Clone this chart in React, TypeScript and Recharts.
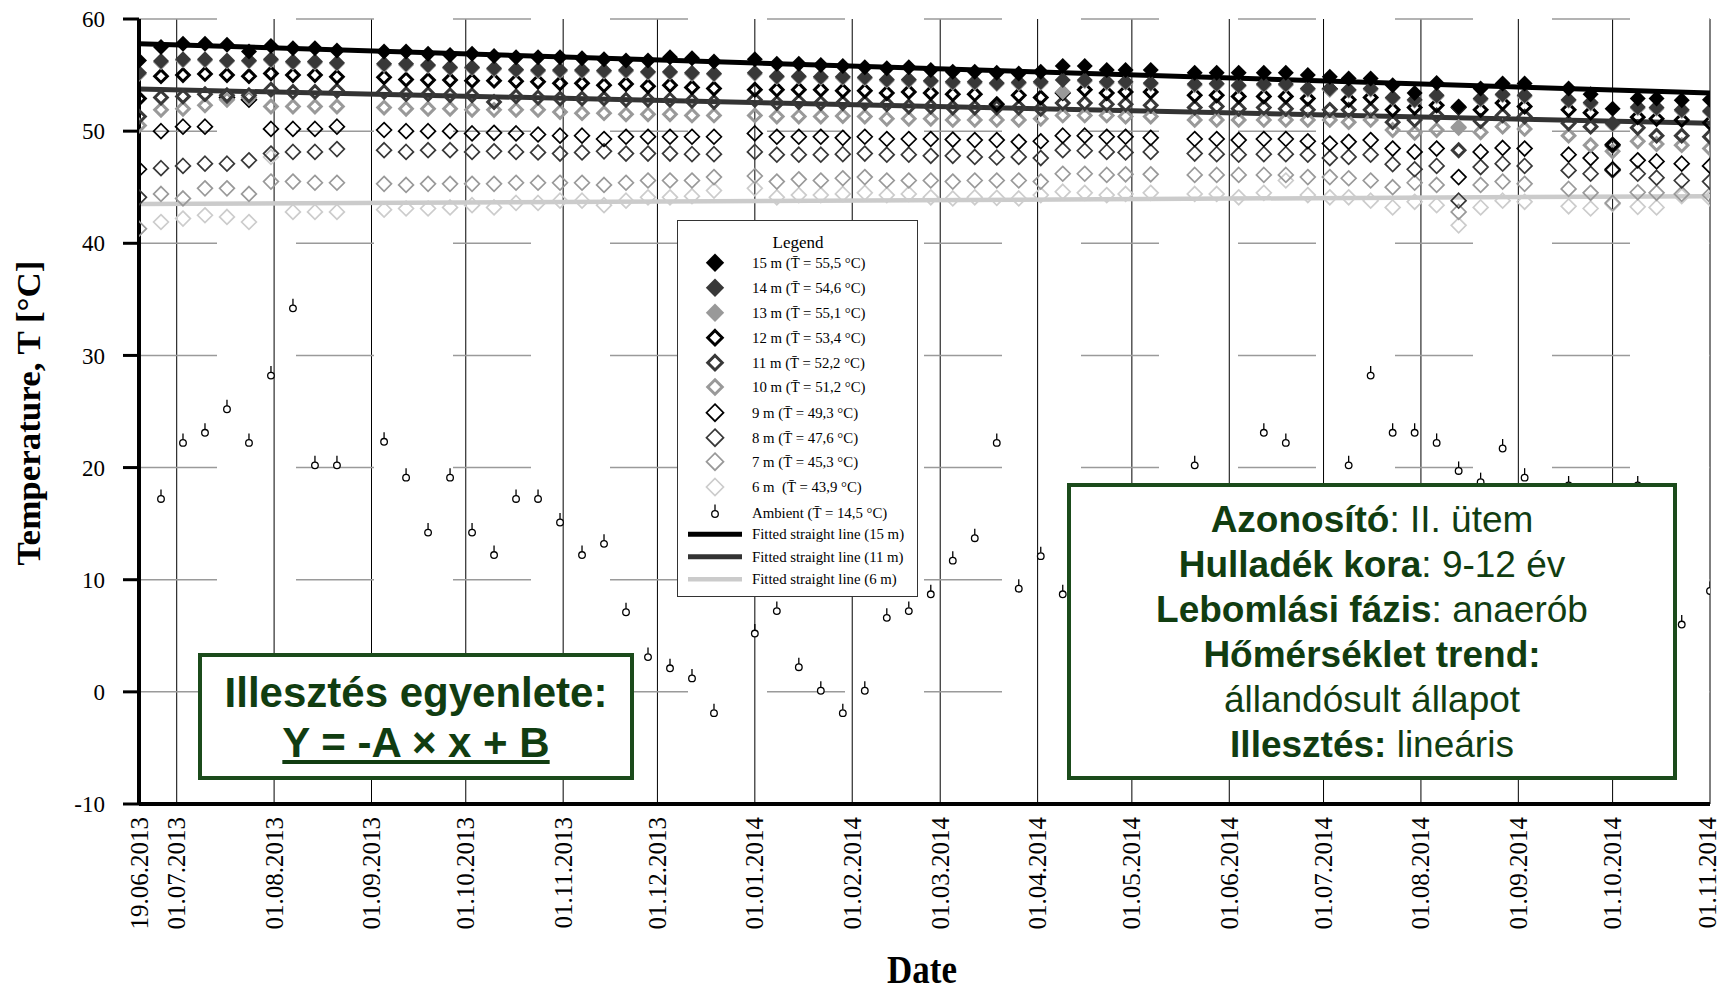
import React from 'react';
import { ComposedChart, Scatter, Line, XAxis, YAxis, CartesianGrid } from 'recharts';

const W = 1721;
const H = 991;

// measurement days, counted from 19.06.2013
const days = [0, 7, 14, 21, 28, 35, 42, 49, 56, 63,
  78, 85, 92, 99, 106, 113, 120, 127, 134, 141, 148, 155, 162, 169, 176, 183,
  196, 203, 210, 217, 224, 231, 238, 245, 252, 259, 266, 273, 280, 287, 294, 301, 308, 314, 322,
  336, 343, 350, 358, 365, 372, 379, 385, 392, 399, 406, 413, 420, 427, 434, 441,
  455, 462, 469, 477, 483, 491, 500];

const t15 = [56.3, 57.5, 57.8, 57.8, 57.7, 57.1, 57.6, 57.4, 57.4, 57.2,
  57.1, 57.1, 56.9, 56.8, 56.9, 56.7, 56.6, 56.6, 56.6, 56.5, 56.4, 56.3, 56.3, 56.6, 56.5, 56.2,
  56.4, 56.0, 56.0, 55.9, 55.8, 55.7, 55.6, 55.7, 55.45, 55.3, 55.3, 55.2, 55.15, 55.3, 55.8, 55.8, 55.45, 55.45, 55.45,
  55.2, 55.2, 55.2, 55.2, 55.2, 55.0, 54.85, 54.7, 54.7, 54.1, 53.4, 54.3, 52.2, 53.8, 54.25, 54.25,
  53.8, 53.3, 52.0, 52.9, 52.9, 52.75, 52.8];
const t14 = [55.2, 56.25, 56.4, 56.4, 56.3, 56.3, 56.4, 56.2, 56.2, 56.1,
  56.0, 56.0, 55.9, 55.7, 55.7, 55.6, 55.5, 55.45, 55.45, 55.45, 55.4, 55.45, 55.3, 55.3, 55.2, 55.15,
  55.2, 54.9, 54.9, 54.85, 54.85, 54.8, 54.6, 54.6, 54.5, 54.4, 54.4, 54.3, 54.35, 54.4, 54.55, 54.55, 54.4, 54.4, 54.3,
  54.2, 54.25, 54.1, 54.2, 54.2, 53.8, 53.8, 53.7, 53.8, 53.0, 52.8, 53.2, 52.1, 52.9, 53.3, 53.2,
  52.8, 52.55, 50.7, 52.15, 52.1, 51.9, 51.8];
const t13 = [55.1, 56.15, 56.3, 56.3, 56.2, 56.2, 56.3, 56.1, 56.1, 56.0,
  55.9, 55.9, 55.8, 55.6, 55.6, 55.5, 55.4, 55.35, 55.35, 55.35, 55.3, 55.35, 55.2, 55.2, 55.1, 55.05,
  55.1, 54.8, 54.8, 54.75, 54.75, 54.7, 54.5, 54.5, 54.4, 54.3, 54.3, 54.2, 54.25, 54.3, 53.5, 54.45, 54.3, 54.3, 54.2,
  54.1, 54.15, 54.0, 54.1, 54.1, 53.7, 53.7, 53.6, 53.7, 52.9, 52.7, 53.1, 50.4, 52.8, 53.2, 53.1,
  52.7, 52.45, 50.6, 52.05, 52.0, 51.8, 51.7];
const t12 = [52.9, 54.9, 55.0, 55.1, 55.0, 54.9, 55.15, 55.0, 55.0, 54.85,
  54.8, 54.6, 54.55, 54.55, 54.5, 54.5, 54.45, 54.4, 54.26, 54.26, 54.1, 54.2, 54.0, 54.1, 53.9, 53.8,
  53.7, 53.7, 53.7, 53.7, 53.6, 53.6, 53.4, 53.5, 53.4, 53.3, 53.3, 52.4, 53.2, 53.0, 53.4, 53.7, 53.4, 53.5, 53.5,
  53.2, 53.2, 53.1, 53.1, 53.1, 52.9, 53.75, 52.8, 53.0, 51.9, 52.1, 52.3, 52.1, 51.9, 52.5, 52.2,
  51.9, 51.65, 48.8, 51.25, 51.1, 51.0, 50.75];
const t11 = [51.3, 53.0, 53.1, 53.3, 53.2, 53.2, 53.7, 53.5, 53.5, 53.6,
  53.5, 53.3, 53.3, 53.2, 53.2, 52.6, 53.1, 53.0, 52.9, 52.9, 52.9, 52.8, 52.8, 52.8, 52.7, 52.6,
  52.8, 52.5, 52.6, 52.5, 52.5, 52.5, 52.4, 52.2, 52.2, 52.1, 52.1, 52.1, 52.1, 52.0, 52.5, 52.5, 52.4, 52.4, 52.3,
  52.1, 52.2, 52.0, 52.1, 52.0, 51.9, 51.9, 51.9, 51.9, 50.8, 51.0, 51.4, 48.3, 50.9, 51.4, 51.3,
  50.7, 50.4, 48.7, 50.3, 49.6, 49.6, 49.5];
const t10 = [50.5, 51.9, 52.0, 52.3, 52.8, 53.0, 52.2, 52.2, 52.2, 52.2,
  52.1, 52.0, 52.0, 52.0, 51.9, 51.9, 51.9, 51.9, 51.7, 51.6, 51.6, 51.5, 51.5, 51.5, 51.4, 51.4,
  51.4, 51.3, 51.3, 51.3, 51.35, 51.3, 51.1, 51.1, 51.1, 51.0, 51.0, 51.0, 51.0, 51.1, 51.4, 51.4, 51.4, 51.3, 51.3,
  51.0, 51.0, 51.0, 51.0, 51.0, 51.0, 51.0, 50.8, 51.0, 50.1, 49.85, 50.1, 50.3, 49.9, 50.4, 50.2,
  49.6, 48.75, 48.2, 49.1, 48.85, 48.75, 48.45];
const t9 = [46.6, 50.0, 50.4, 50.4, 53.0, 52.8, 50.2, 50.2, 50.2, 50.4,
  50.1, 50.0, 50.0, 50.0, 49.8, 49.85, 49.8, 49.7, 49.6, 49.6, 49.3, 49.5, 49.5, 49.5, 49.5, 49.5,
  49.8, 49.5, 49.5, 49.5, 49.4, 49.5, 49.3, 49.3, 49.3, 49.25, 49.2, 49.2, 49.05, 49.1, 49.6, 49.6, 49.5, 49.5, 49.4,
  49.3, 49.3, 49.2, 49.3, 49.3, 49.1, 48.9, 49.05, 49.2, 48.45, 48.15, 48.45, 45.9, 48.15, 48.5, 48.45,
  47.9, 47.6, 46.6, 47.4, 47.3, 47.1, 46.9];
const t8 = [44.1, 46.7, 46.9, 47.1, 47.1, 47.4, 48.0, 48.15, 48.15, 48.4,
  48.3, 48.15, 48.3, 48.3, 48.15, 48.2, 48.15, 48.1, 48.0, 48.1, 48.2, 48.0, 48.0, 48.0, 47.95, 47.95,
  48.15, 47.9, 47.9, 47.9, 47.95, 48.0, 47.9, 47.9, 47.8, 47.8, 47.7, 47.65, 47.7, 47.6, 48.3, 48.25, 48.15, 48.1, 48.15,
  48.0, 47.95, 47.9, 47.95, 47.95, 47.9, 47.6, 47.7, 47.9, 47.05, 46.6, 46.9, 43.8, 46.8, 47.1, 46.9,
  46.5, 46.2, 46.5, 46.2, 45.85, 45.6, 45.5];
const t7 = [41.3, 44.4, 44.0, 44.9, 44.9, 44.4, 45.5, 45.5, 45.4, 45.4,
  45.3, 45.2, 45.3, 45.3, 45.3, 45.3, 45.4, 45.4, 45.4, 45.4, 45.2, 45.4, 45.6, 45.6, 45.6, 45.9,
  46.0, 45.5, 45.7, 45.6, 45.8, 45.9, 45.6, 45.6, 45.6, 45.5, 45.6, 45.6, 45.6, 45.5, 46.2, 46.2, 46.1, 46.15, 46.15,
  46.1, 46.1, 46.1, 46.1, 46.1, 45.9, 45.9, 45.8, 45.6, 45.0, 45.4, 45.2, 42.8, 45.2, 45.5, 45.3,
  44.85, 44.5, 43.6, 44.55, 44.5, 44.4, 44.3];
const t6: (number | null)[] = [null, 41.9, 42.2, 42.5, 42.35, 41.9, 47.7, 42.8, 42.8, 42.8,
  43.0, 43.1, 43.1, 43.2, 43.4, 43.2, 43.6, 43.6, 43.8, 43.8, 43.4, 43.8, 44.1, 44.1, 44.2, 44.7,
  44.9, 44.1, 44.3, 44.3, 44.4, 44.5, 44.3, 44.4, 44.1, 44.0, 44.1, 44.05, 44.0, 44.3, 44.6, 44.5, 44.3, 44.4, 44.5,
  44.4, 44.4, 44.1, 44.5, 45.6, 44.3, 44.1, 44.1, 43.8, 43.2, 43.7, 43.4, 41.6, 43.2, 43.8, 43.7,
  43.3, 43.1, 43.5, 43.25, 43.2, 44.2, 44.0];

const ambientDays = [7, 14, 21, 28, 35, 42, 49, 56, 63,
  78, 85, 92, 99, 106, 113, 120, 127, 134, 141, 148, 155, 162, 169, 176, 183,
  196, 203, 210, 217, 224, 231, 238, 245, 252, 259, 266, 273, 280, 287, 294, 301, 308, 314, 322,
  336, 343, 350, 358, 365, 372, 379, 385, 392, 399, 406, 413, 420, 427, 434, 441,
  455, 462, 469, 477, 483, 491, 500];
const ambientT = [17.2, 22.2, 23.1, 25.2, 22.2, 28.2, 34.2, 20.2, 20.2,
  22.3, 19.1, 14.2, 19.1, 14.2, 12.2, 17.2, 17.2, 15.1, 12.2, 13.2, 7.1, 3.1, 2.1, 1.2, -1.9,
  5.2, 7.2, 2.2, 0.1, -1.9, 0.1, 6.6, 7.2, 8.7, 11.7, 13.7, 22.2, 9.2, 12.1, 8.7, 11.0, 14.0, 13.0, 16.0,
  20.2, 15.5, 17.0, 23.1, 22.2, 17.5, 16.0, 20.2, 28.2, 23.1, 23.1, 22.2, 19.7, 18.7, 21.7, 19.1,
  18.4, 14.0, 12.0, 18.4, 10.0, 6.0, 9.0];

const fitDays = [0, 500];
const fit15 = [57.8, 53.4];
const fit11 = [53.75, 50.7];
const fit6 = [43.5, 44.2];

const monthTicks = [0, 12, 43, 74, 104, 135, 165, 196, 227, 255, 286, 316, 347, 377, 408, 439, 469, 500];
const monthLabels = ['19.06.2013', '01.07.2013', '01.08.2013', '01.09.2013', '01.10.2013', '01.11.2013',
  '01.12.2013', '01.01.2014', '01.02.2014', '01.03.2014', '01.04.2014', '01.05.2014', '01.06.2014',
  '01.07.2014', '01.08.2014', '01.09.2014', '01.10.2014', '01.11.2014'];
const yTicks = [-10, 0, 10, 20, 30, 40, 50, 60];

type Kind = 'filled' | 'thick' | 'thin';
interface Series { name: string; mean: string; values: (number | null)[]; kind: Kind; color: string }

const depthSeries: Series[] = [
  { name: '15 m', mean: '55,5', values: t15, kind: 'filled', color: '#000000' },
  { name: '14 m', mean: '54,6', values: t14, kind: 'filled', color: '#383838' },
  { name: '13 m', mean: '55,1', values: t13, kind: 'filled', color: '#999999' },
  { name: '12 m', mean: '53,4', values: t12, kind: 'thick', color: '#000000' },
  { name: '11 m', mean: '52,2', values: t11, kind: 'thick', color: '#383838' },
  { name: '10 m', mean: '51,2', values: t10, kind: 'thick', color: '#999999' },
  { name: '9 m', mean: '49,3', values: t9, kind: 'thin', color: '#000000' },
  { name: '8 m', mean: '47,6', values: t8, kind: 'thin', color: '#383838' },
  { name: '7 m', mean: '45,3', values: t7, kind: 'thin', color: '#999999' },
  { name: '6 m\u00a0', mean: '43,9', values: t6, kind: 'thin', color: '#cccccc' },
];

const fitSeries = [
  { name: 'Fitted straight line (15 m)', values: fit15, color: '#000000', width: 5 },
  { name: 'Fitted straight line (11 m)', values: fit11, color: '#333333', width: 5 },
  { name: 'Fitted straight line (6 m)', values: fit6, color: '#cbcbcb', width: 4.5 },
];

const toPoints = (xs: number[], vals: (number | null)[]) =>
  xs.map((d, i) => ({ x: d, y: vals[i] })).filter((p) => p.y !== null && p.y !== undefined);

function diamondPts(cx: number, cy: number, r: number) {
  return `${cx},${cy - r} ${cx + r},${cy} ${cx},${cy + r} ${cx - r},${cy}`;
}

function DiamondMark({ cx, cy, kind, color, scale = 1 }: { cx: number; cy: number; kind: Kind; color: string; scale?: number }) {
  if (cx == null || cy == null || isNaN(cx) || isNaN(cy)) return null;
  if (kind === 'filled') return <polygon points={diamondPts(cx, cy, 8 * scale)} fill={color} />;
  if (kind === 'thick')
    return <polygon points={diamondPts(cx, cy, 6.3 * scale)} fill="none" stroke={color} strokeWidth={3} />;
  return <polygon points={diamondPts(cx, cy, 7.4 * scale)} fill="none" stroke={color} strokeWidth={1.7} />;
}

function AmbientMark({ cx, cy }: { cx: number; cy: number }) {
  if (cx == null || cy == null || isNaN(cx) || isNaN(cy)) return null;
  return (
    <g>
      <line x1={cx} y1={cy - 3.3} x2={cx} y2={cy - 9.5} stroke="#000" strokeWidth={1.3} />
      <circle cx={cx} cy={cy} r={3.3} fill="#fff" stroke="#000" strokeWidth={1.3} />
    </g>
  );
}

const XTick = (props: any) => {
  const { x, y, payload } = props;
  const idx = monthTicks.indexOf(payload.value);
  const shift = idx === monthTicks.length - 1 ? -3 : 0;
  return (
    <g transform={`translate(${x + shift},${y + 13}) rotate(-90)`}>
      <text x={0} y={0} dy="0.34em" textAnchor="end" fontFamily="'Liberation Serif', serif" fontSize={25} fill="#000">
        {monthLabels[idx]}
      </text>
    </g>
  );
};

const serif = "'Liberation Serif', 'Times New Roman', serif";
const sans = "'Liberation Sans', Arial, sans-serif";
const green = '#113d11';
const greenBorder = '#1b4b1b';

function LegendBox() {
  const rowsY = [41.7, 66.7, 91.7, 116.7, 141.7, 166, 191.7, 216.7, 240.7, 266];
  return (
    <div style={{ position: 'absolute', left: 677, top: 220, width: 241, height: 377, border: '1.5px solid #333', background: '#fff', boxSizing: 'border-box' }}>
      <svg width={238} height={374} style={{ position: 'absolute', left: 0, top: 0 }}>
        <text x={120} y={27} textAnchor="middle" fontFamily={serif} fontSize={17} fill="#000">Legend</text>
        {depthSeries.map((s, i) => (
          <g key={s.name}>
            <DiamondMark cx={37} cy={rowsY[i]} kind={s.kind} color={s.color} scale={1.15} />
            <text x={74} y={rowsY[i]} dy="0.35em" fontFamily={serif} fontSize={14.8} fill="#000" style={{ whiteSpace: 'pre' }}>
              {`${s.name} (T\u0304 = ${s.mean} °C)`}
            </text>
          </g>
        ))}
        <AmbientMark cx={37} cy={293} />
        <text x={74} y={291.5} dy="0.35em" fontFamily={serif} fontSize={14.8} fill="#000">{'Ambient (T\u0304 = 14,5 °C)'}</text>
        {fitSeries.map((f, i) => {
          const yy = [313.3, 335.7, 358.3][i];
          return (
            <g key={f.name}>
              <line x1={10} x2={64} y1={yy} y2={yy} stroke={f.color} strokeWidth={f.width} />
              <text x={74} y={yy} dy="0.35em" fontFamily={serif} fontSize={14.8} fill="#000">{f.name}</text>
            </g>
          );
        })}
      </svg>
    </div>
  );
}

export default function App() {
  return (
    <div style={{ position: 'absolute', left: 0, top: 0, width: W, height: H, background: '#fff', overflow: 'hidden' }}>
      <ComposedChart width={W} height={H} margin={{ top: 19, right: 11, left: 0, bottom: 0 }}>
        <CartesianGrid horizontal={false} stroke="#000" strokeWidth={1} />
        <CartesianGrid vertical={false} stroke="#9a9a9a" strokeWidth={1.5} strokeDasharray="78 79" />
        <XAxis
          type="number"
          dataKey="x"
          domain={[0, 500]}
          ticks={monthTicks}
          interval={0}
          height={187}
          tickLine={false}
          tickSize={0}
          tickMargin={0}
          axisLine={{ stroke: '#000', strokeWidth: 4 }}
          tick={XTick}
          allowDataOverflow
        />
        <YAxis
          type="number"
          dataKey="y"
          domain={[-10, 60]}
          ticks={yTicks}
          interval={0}
          width={139}
          tickSize={16}
          tickMargin={18}
          tickLine={{ stroke: '#000', strokeWidth: 3 }}
          axisLine={{ stroke: '#000', strokeWidth: 4 }}
          tick={{ fontFamily: serif, fontSize: 23, fill: '#000' }}
          allowDataOverflow
        />
        {depthSeries
          .slice()
          .reverse()
          .map((s) => (
            <Scatter
              key={s.name}
              name={s.name}
              data={toPoints(days, s.values)}
              isAnimationActive={false}
              shape={(p: any) => <DiamondMark cx={p.cx} cy={p.cy} kind={s.kind} color={s.color} />}
            />
          ))}
        <Scatter
          name="Ambient"
          data={toPoints(ambientDays, ambientT)}
          isAnimationActive={false}
          shape={(p: any) => <AmbientMark cx={p.cx} cy={p.cy} />}
        />
        {fitSeries.map((f) => (
          <Line
            key={f.name}
            name={f.name}
            data={toPoints(fitDays, f.values)}
            dataKey="y"
            type="linear"
            stroke={f.color}
            strokeWidth={f.width}
            dot={false}
            activeDot={false}
            isAnimationActive={false}
          />
        ))}
      </ComposedChart>

      <svg width={W} height={H} style={{ position: 'absolute', left: 0, top: 0, pointerEvents: 'none' }}>
        <text
          transform="translate(29,413) rotate(-90)"
          textAnchor="middle"
          dominantBaseline="central"
          fontFamily={serif}
          fontWeight="bold"
          fontSize={33}
          textLength={305}
          lengthAdjust="spacingAndGlyphs"
          fill="#000"
        >
          Temperature, T [°C]
        </text>
        <text x={922} y={983} textAnchor="middle" fontFamily={serif} fontWeight="bold" fontSize={41} textLength={70} lengthAdjust="spacingAndGlyphs" fill="#000">
          Date
        </text>
      </svg>

      <LegendBox />

      <div
        style={{
          position: 'absolute', left: 198, top: 653, width: 436, height: 127, boxSizing: 'border-box',
          border: `4px solid ${greenBorder}`, background: '#fff', color: green, fontFamily: sans,
          fontWeight: 'bold', fontSize: 42, lineHeight: '50px', textAlign: 'center', paddingTop: 11,
          whiteSpace: 'nowrap',
        }}
      >
        <div>Illesztés egyenlete:</div>
        <div style={{ textDecoration: 'underline' }}>Y = -A × x + B</div>
      </div>

      <div
        style={{
          position: 'absolute', left: 1067, top: 483, width: 610, height: 297, boxSizing: 'border-box',
          border: `4px solid ${greenBorder}`, background: '#fff', color: green, fontFamily: sans,
          fontSize: 37, lineHeight: '45px', textAlign: 'center', paddingTop: 10, whiteSpace: 'nowrap',
        }}
      >
        <div><b>Azonosító</b>: II. ütem</div>
        <div><b>Hulladék kora</b>: 9-12 év</div>
        <div><b>Lebomlási fázis</b>: anaerób</div>
        <div><b>Hőmérséklet trend:</b></div>
        <div>állandósult állapot</div>
        <div><b>Illesztés:</b> lineáris</div>
      </div>
    </div>
  );
}
